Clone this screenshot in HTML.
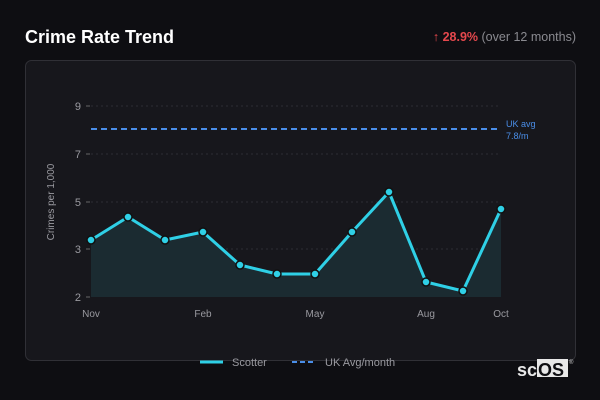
<!DOCTYPE html><html><head><style>
body{margin:0;width:600px;height:400px;background:#0e0e12;font-family:"Liberation Sans",sans-serif;overflow:hidden;position:relative}
</style></head><body>
<svg width="600" height="400" style="position:absolute;left:0;top:0" font-family="Liberation Sans, sans-serif">
<text x="25" y="43" fill="#fff" font-size="18" font-weight="bold">Crime Rate Trend</text>
<text x="576" y="41" fill="#8a8a90" font-size="12.5" text-anchor="end"><tspan fill="#e5484d">↑ </tspan><tspan fill="#e5484d" font-weight="bold">28.9%</tspan> (over 12 months)</text>
<rect x="25.5" y="60.5" width="550" height="300" rx="6" fill="#17171c" stroke="#303036"/>
<g stroke="#2e2e34" stroke-dasharray="2,3">
<line x1="91" x2="501" y1="106" y2="106"/><line x1="91" x2="501" y1="154" y2="154"/><line x1="91" x2="501" y1="202" y2="202"/><line x1="91" x2="501" y1="249" y2="249"/>
</g>
<g stroke="#666" ><line x1="86" x2="90" y1="106" y2="106"/><line x1="86" x2="90" y1="154" y2="154"/><line x1="86" x2="90" y1="202" y2="202"/><line x1="86" x2="90" y1="249" y2="249"/><line x1="86" x2="90" y1="297" y2="297"/></g>
<g fill="#9a9aa0" font-size="11" text-anchor="end">
<text x="81" y="110">9</text><text x="81" y="158">7</text><text x="81" y="206">5</text><text x="81" y="253">3</text><text x="81" y="301">2</text></g>
<text transform="translate(54,202) rotate(-90)" fill="#9a9aa0" font-size="10" text-anchor="middle">Crimes per 1,000</text>
<g fill="#9a9aa0" font-size="10" text-anchor="middle"><text x="91" y="317">Nov</text><text x="203" y="317">Feb</text><text x="315" y="317">May</text><text x="426" y="317">Aug</text><text x="501" y="317">Oct</text></g>
<polygon points="91,297 91,240 128,217 165,240 203,232 240,265 277,274 315,274 352,232 389,192 426,282 463,291 501,209 501,297" fill="#1b2b31"/>
<line x1="91" x2="501" y1="129" y2="129" stroke="#4a8ee8" stroke-width="2" stroke-dasharray="6,4"/>
<text x="506" y="127" fill="#4a8ee8" font-size="9">UK avg</text><text x="506" y="139" fill="#4a8ee8" font-size="9">7.8/m</text>
<polyline points="91,240 128,217 165,240 203,232 240,265 277,274 315,274 352,232 389,192 426,282 463,291 501,209" fill="none" stroke="#2fd0e6" stroke-width="3" stroke-linejoin="round"/>
<g fill="#2fd0e6" stroke="#111" stroke-width="1.5">
<circle cx="91" cy="240" r="4"/><circle cx="128" cy="217" r="4"/><circle cx="165" cy="240" r="4"/><circle cx="203" cy="232" r="4"/><circle cx="240" cy="265" r="4"/><circle cx="277" cy="274" r="4"/><circle cx="315" cy="274" r="4"/><circle cx="352" cy="232" r="4"/><circle cx="389" cy="192" r="4"/><circle cx="426" cy="282" r="4"/><circle cx="463" cy="291" r="4"/><circle cx="501" cy="209" r="4"/></g>
<line x1="200" x2="223" y1="362" y2="362" stroke="#2fd0e6" stroke-width="3"/>
<text x="232" y="366" fill="#9a9aa0" font-size="11">Scotter</text>
<line x1="292" x2="316" y1="362" y2="362" stroke="#4a8ee8" stroke-width="2" stroke-dasharray="5,3"/>
<text x="325" y="366" fill="#9a9aa0" font-size="11">UK Avg/month</text>
<rect x="537" y="359" width="31" height="18" fill="#e8e8e8"/>
<text x="517" y="376" fill="#e8e8e8" font-size="18" font-weight="bold">sc</text>
<text x="538" y="376" fill="#0e0e12" font-size="18" font-weight="bold">OS</text>
<text x="569" y="364" fill="#ccc" font-size="6">®</text>
</svg>
</body></html>
